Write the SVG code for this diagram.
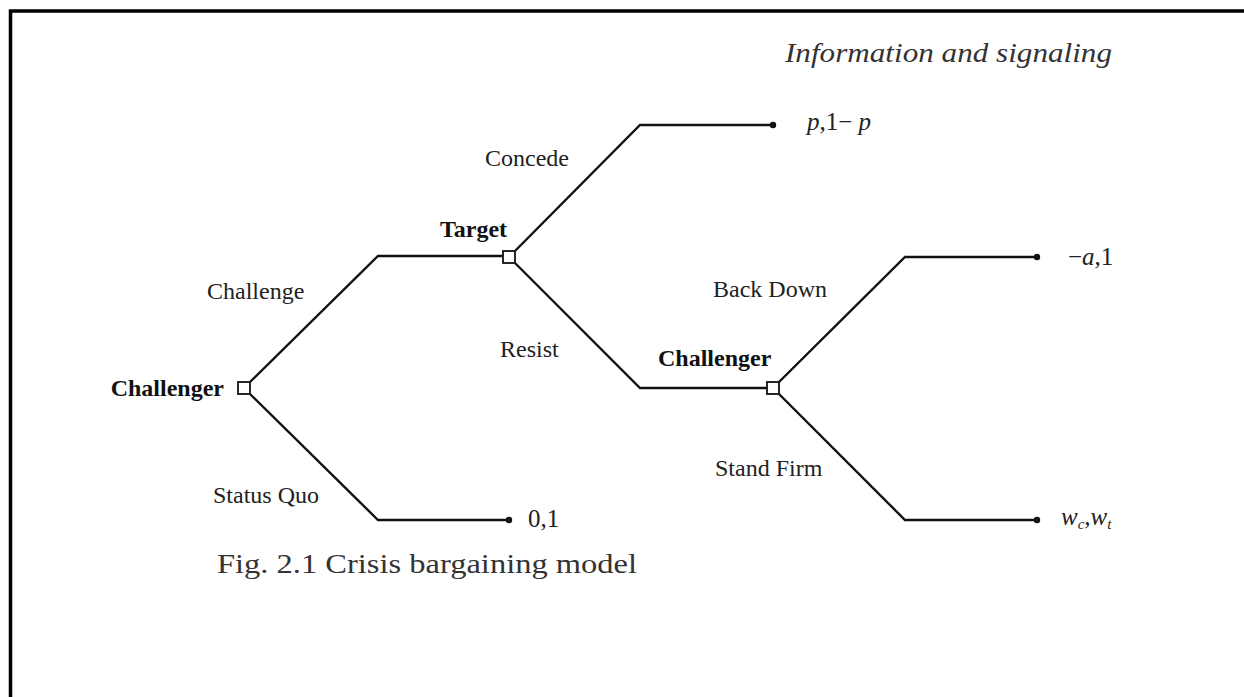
<svg xmlns="http://www.w3.org/2000/svg" width="1244" height="697" viewBox="0 0 1244 697">
<style>
.e{stroke:#111;stroke-width:2.4;fill:none;stroke-linejoin:miter}
.sq{fill:#fff;stroke:#111;stroke-width:1.8}
.dot{fill:#111}
.lbl{font-family:"Liberation Serif",serif;font-size:24px;fill:#222}
.pl{font-family:"Liberation Serif",serif;font-size:24px;font-weight:bold;fill:#111}
.math{font-family:"Liberation Serif",serif;font-size:25px;fill:#222}
.cap{font-family:"Liberation Serif",serif;font-size:28px;fill:#333}
</style>
<rect width="1244" height="697" fill="#fff"/>
<path d="M10.5 697 V11 H1244" fill="none" stroke="#000" stroke-width="3.5"/>
<text x="785" y="62" class="cap" font-style="italic" font-size="29" textLength="327" lengthAdjust="spacingAndGlyphs">Information and signaling</text>
<g id="edges">
<polyline class="e" points="250,382 378,256 503,256"/>
<polyline class="e" points="250,394 378,520 509,520"/>
<polyline class="e" points="515,251 640,125 773,125"/>
<polyline class="e" points="515,263 640,388 767,388"/>
<polyline class="e" points="779,382 905,257 1037,257"/>
<polyline class="e" points="779,394 905,520 1037,520"/>
<circle class="dot" cx="509" cy="520" r="3.2"/>
<circle class="dot" cx="773" cy="125" r="3.2"/>
<circle class="dot" cx="1037" cy="257" r="3.2"/>
<circle class="dot" cx="1037" cy="520" r="3.2"/>
<text x="207" y="299" class="lbl">Challenge</text>
<text x="213" y="503" class="lbl">Status Quo</text>
<text x="485" y="166" class="lbl">Concede</text>
<text x="500" y="357" class="lbl">Resist</text>
<text x="713" y="297" class="lbl">Back Down</text>
<text x="715" y="476" class="lbl">Stand Firm</text>
</g>
<g id="n-challenger1">
<rect class="sq" x="238" y="382" width="12" height="12"/>
<text x="224" y="396" class="pl" text-anchor="end">Challenger</text>
</g>
<g id="n-target">
<rect class="sq" x="503" y="251" width="12" height="12"/>
<text x="440" y="237" class="pl">Target</text>
</g>
<g id="n-challenger2">
<rect class="sq" x="767" y="382" width="12" height="12"/>
<text x="658" y="366" class="pl">Challenger</text>
</g>
<g id="payoffs">
<text x="528" y="527" class="math">0,1</text>
<text x="807" y="130" class="math"><tspan font-style="italic">p</tspan>,1− <tspan font-style="italic">p</tspan></text>
<text x="1068" y="265" class="math">−<tspan font-style="italic">a</tspan>,1</text>
<text x="1061" y="525" class="math" font-style="italic">w<tspan font-size="15" dy="4">c</tspan><tspan dy="-4">,w</tspan><tspan font-size="15" dy="4">t</tspan></text>
</g>
<text x="217" y="573" class="cap" textLength="420" lengthAdjust="spacingAndGlyphs">Fig. 2.1  Crisis bargaining model</text>
</svg>
